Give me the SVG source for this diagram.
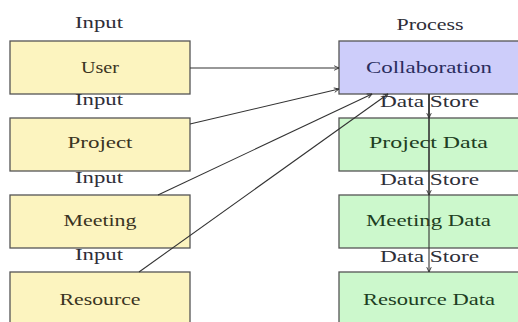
<svg xmlns="http://www.w3.org/2000/svg" width="518" height="322" viewBox="0 0 518 322">
  <defs>
    <marker id="arrow" viewBox="0 0 8 8" refX="7.5" refY="4" markerWidth="6" markerHeight="6" markerUnits="userSpaceOnUse" orient="auto">
      <path d="M1,1 L7.5,4 L1,7" fill="none" stroke="#333" stroke-width="1.2"/>
    </marker>
    <style>
      .box { stroke: #555; stroke-width: 1.3; }
      .input { fill: #fcf4bf; }
      .proc { fill: #cdcdfa; }
      .store { fill: #ccf8cc; }
      text { font-family: "Liberation Serif", "DejaVu Serif", serif; font-size: 17px; text-anchor: middle; }
      .lbl { fill: #2e2e38; }
      .tin { fill: #3a3322; }
      .tproc { fill: #2b2d5e; }
      .tstore { fill: #203e22; }
      .edge { stroke: #333; stroke-width: 1.1; fill: none; }
    </style>
  </defs>

  <rect width="518" height="322" fill="#ffffff"/>

  <!-- input column -->
  <g id="user">
    <text class="lbl" x="99" y="28" textLength="48" lengthAdjust="spacingAndGlyphs">Input</text>
    <rect class="box input" x="10" y="41" width="180" height="53"/>
    <text class="tin" x="100" y="73" textLength="38" lengthAdjust="spacingAndGlyphs">User</text>
  </g>
  <g id="project">
    <text class="lbl" x="99" y="105" textLength="48" lengthAdjust="spacingAndGlyphs">Input</text>
    <rect class="box input" x="10" y="118" width="180" height="53"/>
    <text class="tin" x="100" y="148" textLength="65" lengthAdjust="spacingAndGlyphs">Project</text>
  </g>
  <g id="meeting">
    <text class="lbl" x="99" y="183" textLength="48" lengthAdjust="spacingAndGlyphs">Input</text>
    <rect class="box input" x="10" y="195" width="180" height="53"/>
    <text class="tin" x="100" y="226" textLength="73" lengthAdjust="spacingAndGlyphs">Meeting</text>
  </g>
  <g id="resource">
    <text class="lbl" x="99" y="260" textLength="48" lengthAdjust="spacingAndGlyphs">Input</text>
    <rect class="box input" x="10" y="272" width="180" height="53"/>
    <text class="tin" x="100" y="305" textLength="81" lengthAdjust="spacingAndGlyphs">Resource</text>
  </g>

  <!-- process / data store column -->
  <g id="collaboration">
    <text class="lbl" x="430" y="30" textLength="67" lengthAdjust="spacingAndGlyphs">Process</text>
    <rect class="box proc" x="339" y="41" width="180" height="53"/>
    <text class="tproc" x="429" y="73" textLength="126" lengthAdjust="spacingAndGlyphs">Collaboration</text>
  </g>
  <g id="project-data">
    <text class="lbl" x="429.5" y="107" textLength="99" lengthAdjust="spacingAndGlyphs">Data Store</text>
    <rect class="box store" x="339" y="118" width="180" height="53"/>
    <text class="tstore" x="428.5" y="148" textLength="119" lengthAdjust="spacingAndGlyphs">Project Data</text>
  </g>
  <g id="meeting-data">
    <text class="lbl" x="429.5" y="185" textLength="99" lengthAdjust="spacingAndGlyphs">Data Store</text>
    <rect class="box store" x="339" y="195" width="180" height="53"/>
    <text class="tstore" x="428.5" y="226" textLength="125" lengthAdjust="spacingAndGlyphs">Meeting Data</text>
  </g>
  <g id="resource-data">
    <text class="lbl" x="429.5" y="262" textLength="99" lengthAdjust="spacingAndGlyphs">Data Store</text>
    <rect class="box store" x="339" y="272" width="180" height="53"/>
    <text class="tstore" x="429" y="305" textLength="132" lengthAdjust="spacingAndGlyphs">Resource Data</text>
  </g>

  <!-- connectors -->
  <g id="connectors">
    <line class="edge" x1="190" y1="68" x2="339" y2="68" marker-end="url(#arrow)"/>
    <line class="edge" x1="190" y1="124" x2="339" y2="89" marker-end="url(#arrow)"/>
    <line class="edge" x1="158" y1="195" x2="372" y2="94" marker-end="url(#arrow)"/>
    <line class="edge" x1="139" y1="272" x2="388" y2="94" marker-end="url(#arrow)"/>
    <line class="edge" x1="429" y1="94" x2="429" y2="118" marker-end="url(#arrow)"/>
    <line class="edge" x1="429" y1="94" x2="429" y2="195" marker-end="url(#arrow)"/>
    <line class="edge" x1="429" y1="94" x2="429" y2="272" marker-end="url(#arrow)"/>
  </g>
</svg>
